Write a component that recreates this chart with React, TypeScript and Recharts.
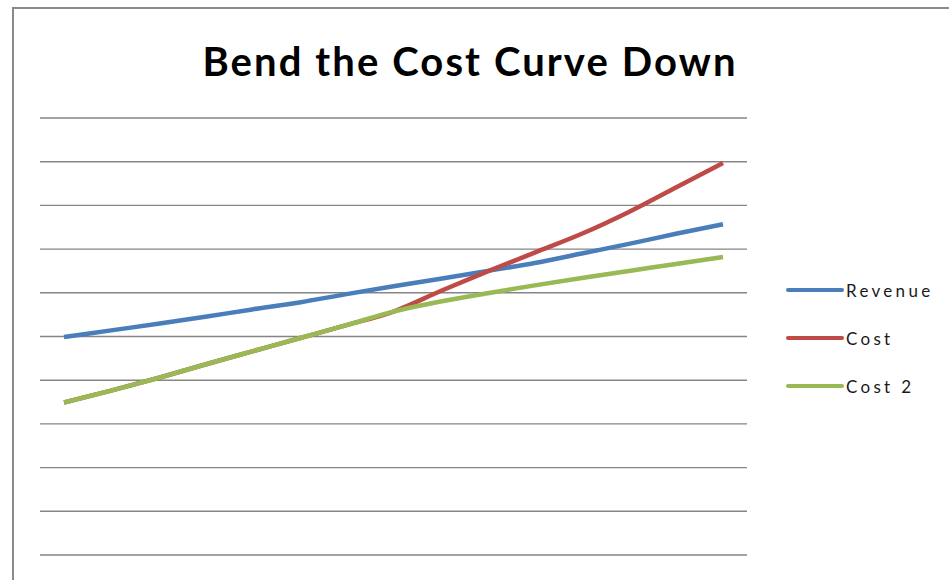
import React from 'react';
import { LineChart, Line, XAxis, YAxis, CartesianGrid, Legend } from 'recharts';

const categories = ['1', '2', '3', '4', '5', '6', '7', '8', '9', '10', '11', '12', '13', '14', '15'];
const revenue = [49.9, 51.4, 52.9, 54.5, 56.2, 57.8, 59.7, 61.5, 63.2, 65.0, 66.8, 69.0, 71.2, 73.5, 75.7];
const cost = [34.9, 37.6, 40.5, 43.6, 46.6, 49.6, 52.6, 55.7, 60.4, 64.9, 69.2, 73.5, 78.5, 84.1, 89.7];
const cost2 = [34.9, 37.6, 40.5, 43.6, 46.6, 49.6, 52.6, 55.7, 58.0, 59.9, 61.7, 63.4, 65.0, 66.6, 68.2];
const yTicks = [0, 10, 20, 30, 40, 50, 60, 70, 80, 90, 100];
const seriesOrder = ['Revenue', 'Cost', 'Cost 2'];

const data = categories.map((c, i) => ({
  name: c,
  Revenue: revenue[i],
  Cost: cost[i],
  'Cost 2': cost2[i],
}));

const font = 'Lato, "Open Sans", sans-serif';

function LegendBox({ payload }: any) {
  const items = [...(payload || [])].sort(
    (a: any, b: any) => seriesOrder.indexOf(a.value) - seriesOrder.indexOf(b.value)
  );
  return (
    <div style={{ fontFamily: font }}>
      {items.map((entry: any) => (
        <div
          key={entry.value}
          style={{ display: 'flex', alignItems: 'center', height: 48 }}
        >
          <div style={{ width: 58, height: 4, background: entry.color, borderRadius: 2 }} />
          <span style={{ fontSize: 17, letterSpacing: 3.3, color: '#1a1a1a', marginLeft: 2 }}>
            {entry.value}
          </span>
        </div>
      ))}
    </div>
  );
}

export default function App() {
  return (
    <div style={{ position: 'absolute', left: 0, top: 0, width: 949, height: 580, background: '#fff', overflow: 'hidden' }}>
      <div
        style={{
          position: 'absolute',
          left: 12,
          top: 7,
          width: 960,
          height: 600,
          borderLeft: '2px solid #8a8a8a',
          borderTop: '2px solid #8a8a8a',
        }}
      />
      <div
        style={{
          position: 'absolute',
          left: 0,
          top: 37,
          width: 940,
          textAlign: 'center',
          fontFamily: font,
          fontWeight: 700,
          fontSize: 40,
          letterSpacing: 2.1,
          color: '#000',
        }}
      >
        Bend the Cost Curve Down
      </div>
      <div style={{ position: 'absolute', left: 0, top: 0 }}>
        <LineChart width={949} height={580} data={data} margin={{ top: 118, right: 202, bottom: 25, left: 40 }}>
          <CartesianGrid horizontal vertical={false} stroke="#858585" strokeWidth={1.4} />
          <XAxis dataKey="name" hide padding={{ left: 24, right: 24 }} />
          <YAxis hide domain={[0, 100]} ticks={yTicks} />
          <Legend
            layout="vertical"
            content={<LegendBox />}
            wrapperStyle={{ position: 'absolute', left: 786, top: 266, width: 160, height: 0, overflow: 'visible' }}
          />
          <Line type="monotone" dataKey="Revenue" stroke="#4a7ebb" strokeWidth={4.5} dot={false} isAnimationActive={false} />
          <Line type="monotone" dataKey="Cost" stroke="#be4b48" strokeWidth={4.5} dot={false} isAnimationActive={false} />
          <Line type="monotone" dataKey="Cost 2" stroke="#98b954" strokeWidth={4.5} dot={false} isAnimationActive={false} />
        </LineChart>
      </div>
    </div>
  );
}
